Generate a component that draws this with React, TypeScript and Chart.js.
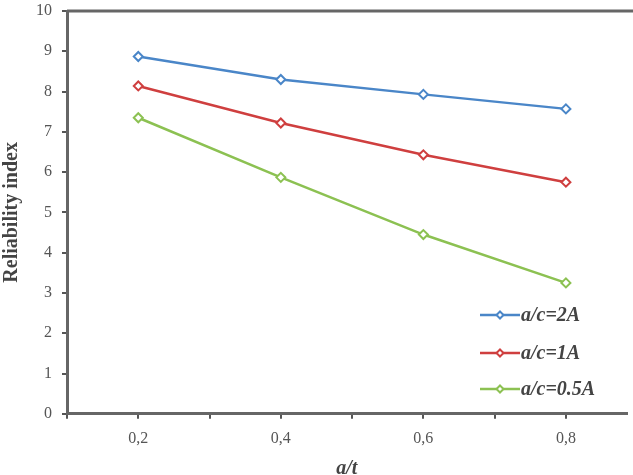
import React, { useEffect, useRef } from "react";
import { Chart, registerables } from "chart.js";

Chart.register(...registerables);

const xValues = [0.2, 0.4, 0.6, 0.8];
const seriesLabels = ["a/c=2A", "a/c=1A", "a/c=0.5A"];
const series2A = [8.87, 8.3, 7.93, 7.57];
const series1A = [8.14, 7.22, 6.43, 5.75];
const series05A = [7.35, 5.87, 4.45, 3.25];
const seriesColors = ["#4a86c8", "#cf3f3f", "#8cc152"];
const labeledTicks = [2, 4, 6, 8];

const FONT = "'Liberation Serif', 'DejaVu Serif', serif";
const SHIFT = 3;

const framePlugin = {
  id: "frameTop",
  afterDraw(chart: any) {
    const { ctx, chartArea } = chart;
    ctx.save();
    ctx.strokeStyle = "#666";
    ctx.lineWidth = 3;
    ctx.beginPath();
    ctx.moveTo(chartArea.left, chartArea.top);
    ctx.lineTo(chart.width, chartArea.top);
    ctx.stroke();
    ctx.restore();
  },
};

const legendPlugin = {
  id: "innerLegend",
  afterDraw(chart: any) {
    const { ctx } = chart;
    const ys = [315 + SHIFT, 353 + SHIFT, 389 + SHIFT];
    ctx.save();
    chart.data.datasets.forEach((ds: any, i: number) => {
      const y = ys[i];
      ctx.strokeStyle = ds.borderColor;
      ctx.lineWidth = 2.5;
      ctx.beginPath();
      ctx.moveTo(480, y);
      ctx.lineTo(520, y);
      ctx.stroke();
      ctx.fillStyle = "#fff";
      ctx.lineWidth = 2;
      ctx.beginPath();
      ctx.moveTo(500, y - 3.5);
      ctx.lineTo(503.5, y);
      ctx.lineTo(500, y + 3.5);
      ctx.lineTo(496.5, y);
      ctx.closePath();
      ctx.fill();
      ctx.stroke();
      ctx.fillStyle = "#444";
      ctx.font = `italic bold 20px ${FONT}`;
      ctx.textAlign = "left";
      ctx.textBaseline = "middle";
      ctx.fillText(ds.label, 521, y + 1);
    });
    ctx.restore();
  },
};

export default function App() {
  const ref = useRef<HTMLCanvasElement>(null);
  useEffect(() => {
    document.body.style.margin = "0";
    const allSeries = [series2A, series1A, series05A];
    const chart = new Chart(ref.current!, {
      type: "line",
      data: {
        datasets: allSeries.map((s, i) => ({
          label: seriesLabels[i],
          data: xValues.map((x, j) => ({ x, y: s[j] })),
          borderColor: seriesColors[i],
          backgroundColor: "#fff",
          borderWidth: 2.5,
          pointStyle: "rectRot",
          pointRadius: 4.5,
          pointBorderWidth: 2,
          pointBackgroundColor: "#fff",
          pointBorderColor: seriesColors[i],
          tension: 0,
        })),
      },
      options: {
        animation: false,
        responsive: false,
        layout: { padding: { top: 8, right: 0, left: 0, bottom: -6 } },
        plugins: { legend: { display: false }, tooltip: { enabled: false } },
        scales: {
          x: {
            type: "linear",
            min: 0.1,
            max: 0.885,
            grid: { drawOnChartArea: false, drawTicks: true, tickLength: 5, color: "#555", lineWidth: 2 },
            border: { display: true, color: "#666", width: 3 },
            ticks: {
              stepSize: 0.1,
              includeBounds: false,
              autoSkip: false,
              maxRotation: 0,
              padding: 10,
              color: "#555",
              font: { family: FONT, size: 16 },
              callback: (v: any) => {
                const n = Math.round(Number(v) * 10);
                return labeledTicks.includes(n) ? (n / 10).toFixed(1).replace(".", ",") : "";
              },
            },
            title: {
              display: true,
              text: "a/t",
              color: "#444",
              font: { family: FONT, size: 20, style: "italic", weight: "bold" },
              padding: { top: -1, bottom: 0 },
            },
          },
          y: {
            min: 0,
            max: 10,
            grid: { drawOnChartArea: false, drawTicks: true, tickLength: 5, color: "#555", lineWidth: 2 },
            border: { display: true, color: "#666", width: 3 },
            ticks: {
              stepSize: 1,
              padding: 10,
              color: "#555",
              font: { family: FONT, size: 16, lineHeight: 0.5 },
            },
            title: {
              display: true,
              text: "Reliability index",
              color: "#444",
              font: { family: FONT, size: 20, weight: "bold" },
              padding: { top: 0, bottom: 2 },
            },
          },
        },
      },
      plugins: [framePlugin, legendPlugin],
    });
    return () => chart.destroy();
  }, []);
  return (
    <div style={{ width: 633, height: 475, position: "relative", overflow: "hidden" }}>
      <canvas
        ref={ref}
        width={633}
        height={475 + SHIFT}
        style={{ display: "block", position: "absolute", left: 0, top: -SHIFT }}
      />
    </div>
  );
}
